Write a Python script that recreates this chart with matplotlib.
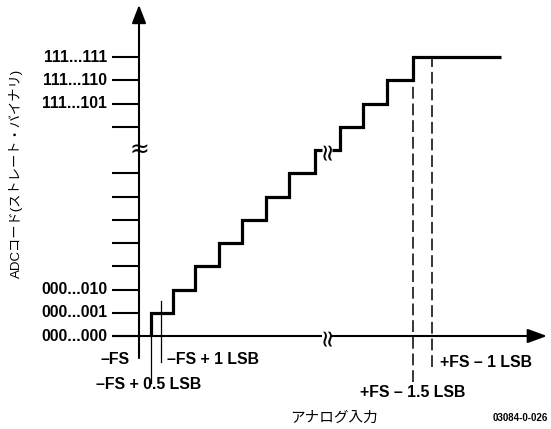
import matplotlib
matplotlib.use('Agg')
import matplotlib.pyplot as plt

plt.rcParams['font.family'] = ['Liberation Sans', 'Noto Sans CJK JP', 'DejaVu Sans']
plt.rcParams['lines.scale_dashes'] = False

# transfer function in LSB units (x) and output codes (y); the middle is cut by a break
step_x_low = [0.5, 1.45, 2.4, 3.4, 4.4, 5.4, 6.4, 7.5]
step_y_low = [1, 2, 3, 4, 5, 6, 7, 8]
step_x_high = [8.55, 9.55, 10.55, 11.65]
step_y_high = [9, 10, 11, 12]
x_end = 15.4
x_break = 8.0

# y axis codes
tick_codes = [0, 1, 2, 3, 4, 5, 6, 7, 9, 10, 11, 12]
label_codes = [0, 1, 2, 10, 11, 12]
code_labels = ['000...000', '000...001', '000...010', '111...101', '111...110', '111...111']

# marked input levels
fs_half = 0.5
fs_one = 0.95
fs_minus_1p5 = 11.65
fs_minus_1 = 12.47

fig = plt.figure(figsize=(5.51, 4.29), dpi=100)
ax = fig.add_axes([0, 0, 1, 1])
ax.set_xlim(-5.915, 17.532)
ax.set_ylim(-4.0, 14.452)
ax.axis('off')

lw_axis = 1.5
lw_step = 2.3
fs = 11.4


def stair(xs, ys, x0, y0, x1):
    px, py = [x0], [y0]
    for x, y in zip(xs, ys):
        px += [x, x]
        py += [py[-1], y]
    px.append(x1)
    py.append(py[-1])
    return px, py


gap = 0.22
px, py = stair(step_x_low, step_y_low, step_x_low[0], 0, x_break - gap)
ax.plot(px, py, color='black', lw=lw_step, solid_joinstyle='miter', solid_capstyle='butt')
px, py = stair(step_x_high, step_y_high, x_break + gap, step_y_low[-1], x_end)
ax.plot(px, py, color='black', lw=lw_step, solid_joinstyle='miter', solid_capstyle='butt')

# axes with arrows
ax.plot([-1.15, x_break - gap], [0, 0], color='black', lw=lw_axis, solid_capstyle='butt')
ax.annotate('', xy=(17.36, 0), xytext=(x_break + gap, 0),
            arrowprops=dict(arrowstyle='-|>,head_length=0.9,head_width=0.33',
                            mutation_scale=13, lw=lw_axis, color='black',
                            shrinkA=0, shrinkB=0))
ax.annotate('', xy=(0, 14.24), xytext=(0, -0.95),
            arrowprops=dict(arrowstyle='-|>,head_length=0.85,head_width=0.33',
                            mutation_scale=13, lw=lw_axis, color='black',
                            shrinkA=0, shrinkB=0))

for c in tick_codes:
    ax.plot([-1.15, 0], [c, c], color='black', lw=lw_axis, solid_capstyle='butt')
for c, lab in zip(label_codes, code_labels):
    ax.text(-1.36, c, lab, ha='right', va='center', fontsize=fs, fontweight='bold')

# break symbols
ax.text(0.02, 8, '≈', ha='center', va='center', fontsize=17, family='DejaVu Sans')
ax.text(x_break, 8, '≈', ha='center', va='center', fontsize=17, rotation=90,
        family='DejaVu Sans')
ax.text(x_break, 0, '≈', ha='center', va='center', fontsize=17, rotation=90,
        family='DejaVu Sans')

# marker lines
ax.plot([fs_half, fs_half], [-2.02, 0], color='black', lw=0.9)
ax.plot([fs_one, fs_one], [-1.1, 1.5], color='black', lw=0.9)
ax.plot([fs_minus_1p5, fs_minus_1p5], [-1.98, 12], color='black', lw=1.1,
        dashes=(8.5, 3.5))
ax.plot([fs_minus_1, fs_minus_1], [-1.33, 12], color='black', lw=1.1,
        dashes=(8.5, 3.5))

bold = dict(fontsize=fs, fontweight='bold')
ax.text(-0.38, -1.03, '–FS', ha='right', va='center', **bold)
ax.text(1.19, -1.03, '–FS + 1 LSB', ha='left', va='center', **bold)
ax.text(0.43, -2.1, '–FS + 0.5 LSB', ha='center', va='center', **bold)
ax.text(11.64, -2.45, '+FS – 1.5 LSB', ha='center', va='center', **bold)
ax.text(12.81, -1.12, '+FS – 1 LSB', ha='left', va='center', **bold)

ax.text(8.3, -3.53, 'アナログ入力', ha='center', va='center', fontsize=10.5)
ax.text(17.4, -3.53, '03084-0-026', ha='right', va='center', fontsize=7,
        fontweight='bold')
ax.text(-5.23, 7.0, 'ADCコード(ストレート・バイナリ)', ha='center', va='center',
        rotation=90, fontsize=9.5)

fig.savefig('out.png', dpi=100)
